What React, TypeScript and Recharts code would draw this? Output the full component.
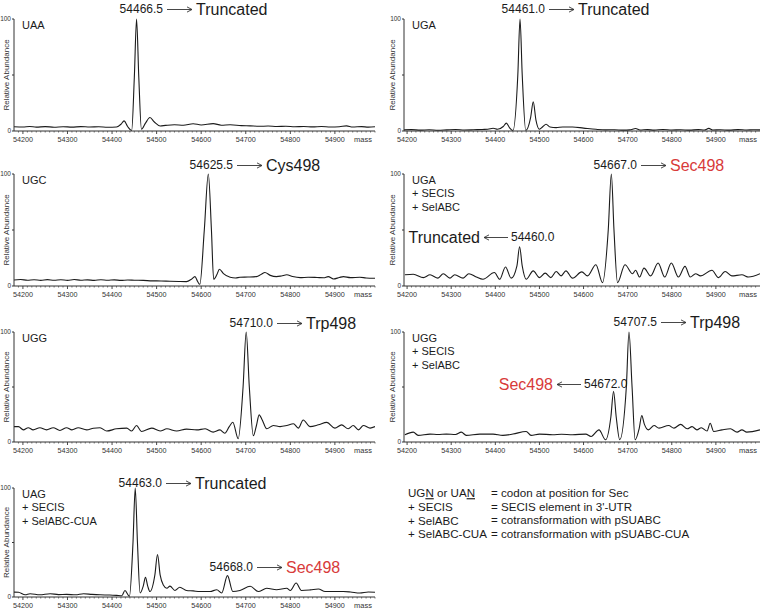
import { Line, LineChart, XAxis, YAxis } from "recharts";

const FONT = '"Liberation Sans", Arial, Helvetica, sans-serif';
const INK = "#1b1b1b";
const AXIS = "#333333";
const RED = "#d83a3a";

const MASS_LABELS = [54200, 54300, 54400, 54500, 54600, 54700, 54800, 54900];
const Y_TICKS = [0, 50, 100];
const LEFT_DOMAIN: [number, number] = [54180, 54990];
const RIGHT_DOMAIN: [number, number] = [54193, 55000];

// tick every 10 mass units; the hundreds carry a label
const X_TICKS: number[] = [];
for (let m = 54190; m <= 54990; m += 10) X_TICKS.push(m);

// [mass, relative abundance]
const UAA: [number, number][] = [
  [54180, 3.8], [54200, 3.6], [54215, 4.0], [54230, 3.5], [54250, 3.9], [54270, 3.4],
  [54290, 3.8], [54310, 3.5], [54330, 3.9], [54350, 3.6], [54370, 3.8], [54390, 3.4],
  [54410, 3.6], [54420, 6], [54427, 9], [54435, 4], [54444, 0.4], [54450, 48],
  [54455, 100], [54460, 48], [54466, 1.5], [54475, 7], [54485, 12], [54495, 8],
  [54508, 4.5], [54520, 5], [54540, 5.6], [54560, 5.2], [54582, 6.5], [54600, 5.4],
  [54627, 6.6], [54645, 5.2], [54665, 5.6], [54690, 4.8], [54710, 4.6], [54730, 4.2],
  [54750, 4.4], [54770, 4.0], [54790, 4.2], [54810, 3.8], [54830, 4.0], [54850, 3.7],
  [54870, 4.0], [54890, 3.6], [54910, 3.8], [54926, 4.6], [54940, 3.6], [54960, 3.9],
  [54975, 3.5], [54990, 3.8],
];

const UGA: [number, number][] = [
  [54193, 1.0], [54210, 1.2], [54230, 0.8], [54250, 1.1], [54270, 0.7], [54290, 1.0],
  [54310, 1.3], [54330, 0.9], [54350, 1.1], [54370, 1.4], [54383, 1.5], [54395, 2.4],
  [54405, 1.5], [54418, 4], [54425, 7], [54432, 3], [54440, 0.4], [54451, 50],
  [54456, 100], [54461, 50], [54469, 0.5], [54480, 12], [54486, 26], [54492, 10],
  [54500, 1.5], [54508, 4], [54515, 6], [54524, 3.5], [54538, 3], [54553, 3.6],
  [54575, 3.6], [54600, 2.6], [54628, 1.5], [54650, 1.0], [54670, 1.1], [54690, 0.8],
  [54705, 1.0], [54718, 2.2], [54728, 0.9], [54745, 1.2], [54760, 0.8], [54780, 1.3],
  [54800, 0.9], [54820, 1.1], [54840, 0.8], [54860, 1.2], [54874, 0.9], [54884, 2.3],
  [54893, 0.9], [54910, 1.1], [54930, 0.8], [54950, 1.2], [54970, 0.9], [54985, 1.1],
  [55000, 1.0],
];

const UGC: [number, number][] = [
  [54180, 5.4], [54195, 5.8], [54210, 5.2], [54225, 5.6], [54240, 5.0], [54255, 5.7],
  [54270, 5.1], [54285, 5.6], [54300, 5.0], [54315, 5.8], [54330, 5.2], [54345, 5.5],
  [54360, 5.0], [54375, 5.6], [54390, 5.1], [54405, 5.5], [54420, 5.0], [54435, 5.4],
  [54450, 5.2], [54470, 5.0], [54490, 4.6], [54510, 4.5], [54530, 4.2], [54550, 4.0],
  [54567, 3.9], [54578, 6], [54586, 8.4], [54592, 4], [54597, 1.5], [54607, 50],
  [54616, 100], [54623, 50], [54628, 6], [54635, 10], [54641, 15], [54650, 11],
  [54665, 7.8], [54677, 7.2], [54687, 7.8], [54705, 8.0], [54724, 8.4], [54735, 10.5],
  [54743, 12], [54755, 9.5], [54769, 8.4], [54780, 9], [54792, 10], [54805, 8.5],
  [54822, 7.5], [54840, 7.8], [54860, 7.6], [54875, 7.4], [54885, 8.4], [54897, 6.3],
  [54910, 7.6], [54919, 8.4], [54935, 7.5], [54956, 7.8], [54970, 7.2], [54990, 6.9],
];

const UGA_SEC: [number, number][] = [
  [54195, 10], [54214, 10.5], [54237, 7.5], [54252, 10], [54270, 7], [54282, 11],
  [54297, 7], [54308, 10], [54327, 7], [54340, 11], [54357, 8], [54372, 6],
  [54398, 12], [54410, 6], [54423, 17], [54436, 7], [54449, 18], [54455, 35],
  [54461, 18], [54470, 6], [54486, 13.5], [54500, 7.5], [54513, 11.5], [54526, 7.5],
  [54538, 13], [54549, 9], [54560, 13.5], [54575, 7], [54596, 12.6], [54609, 9],
  [54628, 19], [54643, 3], [54656, 50], [54663, 100], [54669, 50], [54677, 3],
  [54694, 19], [54711, 11], [54718, 14], [54727, 8], [54737, 16], [54752, 9],
  [54769, 20.5], [54784, 8], [54799, 20.5], [54815, 8], [54830, 17.5], [54842, 8],
  [54854, 11], [54865, 9], [54891, 14], [54906, 7.5], [54921, 13], [54936, 9],
  [54959, 10], [54974, 8], [55000, 11],
];

const UGG: [number, number][] = [
  [54180, 14], [54190, 14], [54201, 11], [54212, 13], [54223, 11], [54238, 13],
  [54253, 11], [54268, 13], [54283, 10.5], [54298, 13], [54310, 11], [54324, 13],
  [54343, 11], [54358, 12.5], [54373, 13], [54388, 10], [54410, 12], [54433, 12.6],
  [54444, 10], [54455, 15], [54466, 9.6], [54489, 12.6], [54508, 10], [54523, 12],
  [54545, 10], [54567, 11.7], [54590, 11], [54609, 12], [54627, 9], [54642, 11],
  [54653, 8], [54663, 14], [54671, 18], [54683, 3], [54694, 50], [54701, 100],
  [54708, 50], [54717, 5.7], [54724, 15], [54730, 24.7], [54737, 20], [54747, 12],
  [54762, 15], [54777, 14], [54792, 15], [54807, 16.6], [54818, 12.6], [54829, 20],
  [54844, 14], [54863, 15.6], [54882, 17.8], [54900, 12.6], [54915, 15.6], [54930, 12],
  [54941, 15], [54953, 11], [54964, 15], [54979, 12.6], [54990, 14],
];

const UGG_SEC: [number, number][] = [
  [54195, 6.6], [54214, 9], [54225, 6], [54252, 7.2], [54270, 6.8], [54289, 7.2],
  [54310, 6.8], [54323, 9], [54334, 6], [54365, 7.2], [54395, 7.2], [54417, 6],
  [54440, 7.2], [54470, 9.6], [54481, 6], [54500, 7.2], [54530, 6.6], [54550, 7],
  [54575, 6.6], [54605, 7.2], [54617, 5], [54635, 11], [54650, 2], [54662, 23],
  [54668, 46], [54674, 23], [54682, 2], [54697, 50], [54703, 100], [54710, 50],
  [54717, 2], [54726, 12], [54732, 24], [54738, 16], [54747, 11], [54760, 15],
  [54771, 12.6], [54793, 15], [54805, 12.6], [54820, 16], [54835, 12], [54846, 14],
  [54857, 11], [54867, 13], [54880, 10], [54887, 17], [54895, 9.6], [54914, 11],
  [54933, 12], [54948, 9], [54959, 11], [54970, 9], [55000, 11],
];

const UAG_SEC: [number, number][] = [
  [54180, 4.5], [54190, 4.3], [54205, 2], [54216, 3], [54238, 2], [54261, 3],
  [54280, 2.2], [54298, 2.4], [54318, 2.0], [54336, 3], [54355, 2.4], [54373, 2],
  [54395, 1.8], [54410, 1.5], [54422, 1.2], [54429, 6], [54439, 0.6], [54447, 50],
  [54452, 100], [54457, 50], [54463, 3.7], [54470, 10], [54475, 18], [54480, 10],
  [54485, 5], [54496, 20], [54502, 39], [54508, 20], [54515, 11], [54523, 8],
  [54530, 10], [54541, 6], [54552, 9], [54567, 6], [54582, 5.6], [54597, 5],
  [54620, 5], [54635, 6.7], [54646, 3.7], [54659, 19.6], [54671, 5], [54687, 6],
  [54710, 9.8], [54728, 5], [54747, 8], [54769, 6.7], [54792, 8], [54800, 6],
  [54813, 12.8], [54825, 6], [54845, 6.5], [54863, 7.3], [54878, 5], [54897, 5],
  [54919, 5], [54935, 4.6], [54956, 3.7], [54975, 4.6], [54990, 4.3],
];

const UAA_TAGS = ["UAA"];
const UGA_TAGS = ["UGA"];
const UGC_TAGS = ["UGC"];
const UGA_SEC_TAGS = ["UGA", "+ SECIS", "+ SelABC"];
const UGG_TAGS = ["UGG"];
const UGG_SEC_TAGS = ["UGG", "+ SECIS", "+ SelABC"];
const UAG_SEC_TAGS = ["UAG", "+ SECIS", "+ SelABC-CUA"];

const LEGEND_TERMS = ["+ SECIS", "+ SelABC", "+ SelABC-CUA"];
const LEGEND_MEANINGS = [
  "= codon at position for Sec",
  "= SECIS element in 3'-UTR",
  "= cotransformation with pSUABC",
  "= cotransformation with pSUABC-CUA",
];

const LEFT = { left: 14, right: 375, domain: LEFT_DOMAIN, titleX: 9 };
const RIGHT = { left: 404, right: 760, domain: RIGHT_DOMAIN, titleX: 395 };

const PANELS = [
  { data: UAA, tags: UAA_TAGS, side: LEFT, top: 19, bottom: 131 },
  { data: UGA, tags: UGA_TAGS, side: RIGHT, top: 19, bottom: 131 },
  { data: UGC, tags: UGC_TAGS, side: LEFT, top: 174, bottom: 286 },
  { data: UGA_SEC, tags: UGA_SEC_TAGS, side: RIGHT, top: 174, bottom: 286 },
  { data: UGG, tags: UGG_TAGS, side: LEFT, top: 332, bottom: 442 },
  { data: UGG_SEC, tags: UGG_SEC_TAGS, side: RIGHT, top: 332, bottom: 442 },
  { data: UAG_SEC, tags: UAG_SEC_TAGS, side: LEFT, top: 488, bottom: 597 },
];

// peak call-outs: x is where the mass number ends (right) or starts (left)
const CALLOUTS = [
  { mass: "54466.5", what: "Truncated", red: false, dir: "right", x: 163, y: 9 },
  { mass: "54461.0", what: "Truncated", red: false, dir: "right", x: 545, y: 9 },
  { mass: "54625.5", what: "Cys498", red: false, dir: "right", x: 233, y: 165 },
  { mass: "54667.0", what: "Sec498", red: true, dir: "right", x: 637, y: 165 },
  { mass: "54460.0", what: "Truncated", red: false, dir: "left", x: 511, y: 237 },
  { mass: "54710.0", what: "Trp498", red: false, dir: "right", x: 273, y: 323 },
  { mass: "54707.5", what: "Trp498", red: false, dir: "right", x: 657, y: 322 },
  { mass: "54672.0", what: "Sec498", red: true, dir: "left", x: 584, y: 384 },
  { mass: "54463.0", what: "Truncated", red: false, dir: "right", x: 162, y: 483 },
  { mass: "54668.0", what: "Sec498", red: true, dir: "right", x: 253, y: 567 },
];

const M_TOP = 5;
const Y_W = 14;
const X_H = 14;
const M_RIGHT = 3;

type Side = { left: number; right: number; domain: [number, number]; titleX: number };

function MassTick({ x, y, payload }: any) {
  const major = MASS_LABELS.includes(payload.value);
  return (
    <g>
      <line x1={x} y1={y} x2={x} y2={y + (major ? 3 : 1.6)} stroke={AXIS} strokeWidth={major ? 0.9 : 0.6} />
      {major && (
        <text x={x} y={y + 10.5} textAnchor="middle" fontSize={7.2} fill="#333" fontFamily={FONT}>
          {payload.value}
        </text>
      )}
    </g>
  );
}

function Spectrum({ data, side, top, bottom }: { data: [number, number][]; side: Side; top: number; bottom: number }) {
  const rows = data.map(([m, a]) => ({ m, a }));
  const width = side.right - side.left + Y_W + M_RIGHT;
  const height = bottom - top + M_TOP + X_H;
  return (
    <div style={{ position: "absolute", left: side.left - Y_W, top: top - M_TOP }}>
      <LineChart width={width} height={height} data={rows} margin={{ top: M_TOP, right: M_RIGHT, bottom: 0, left: 0 }}>
        <XAxis
          type="number"
          dataKey="m"
          domain={side.domain}
          ticks={X_TICKS.filter((t) => t >= side.domain[0] && t <= side.domain[1])}
          interval={0}
          allowDataOverflow
          height={X_H}
          axisLine={{ stroke: AXIS, strokeWidth: 1 }}
          tickLine={false}
          tickSize={0}
          tickMargin={0}
          tick={<MassTick />}
        />
        <YAxis
          type="number"
          domain={[0, 100]}
          ticks={Y_TICKS}
          width={Y_W}
          axisLine={{ stroke: AXIS, strokeWidth: 1 }}
          tickLine={{ stroke: AXIS }}
          tickSize={2}
          tickMargin={1}
          tickFormatter={(v: number) => (v === 50 ? "" : String(v))}
          tick={{ fontSize: 6.5, fill: "#333", fontFamily: FONT }}
        />
        <Line
          type="monotone"
          dataKey="a"
          stroke={INK}
          strokeWidth={1.1}
          dot={false}
          isAnimationActive={false}
        />
      </LineChart>
    </div>
  );
}

function Txt({ x, y, size, children, anchor = "start", fill = INK }: any) {
  return (
    <text x={x} y={y + size * 0.36} fontSize={size} textAnchor={anchor} fill={fill} fontFamily={FONT}>
      {children}
    </text>
  );
}

function Arrow({ from, to, y }: { from: number; to: number; y: number }) {
  const d = to > from ? -1 : 1;
  return (
    <g stroke="#333" strokeWidth={0.9} fill="none">
      <line x1={from} y1={y} x2={to} y2={y} />
      <polyline points={`${to + d * 5},${y - 2.6} ${to},${y} ${to + d * 5},${y + 2.6}`} />
    </g>
  );
}

export default function App() {
  return (
    <div style={{ position: "absolute", left: 0, top: 0, width: 763, height: 612, background: "#fff" }}>
      {PANELS.map((p, i) => (
        <Spectrum key={i} data={p.data} side={p.side} top={p.top} bottom={p.bottom} />
      ))}
      <svg width={763} height={612} style={{ position: "absolute", left: 0, top: 0, pointerEvents: "none" }}>
        {PANELS.map((p, i) => {
          const cy = (p.top + p.bottom) / 2;
          return (
            <g key={i}>
              <text
                transform={`translate(${p.side.titleX},${cy}) rotate(-90)`}
                fontSize={8}
                textAnchor="middle"
                fill="#333"
                fontFamily={FONT}
              >
                Relative Abundance
              </text>
              <Txt x={p.side.right - 12} y={p.bottom + 8} size={7.5} anchor="middle" fill="#333">
                mass
              </Txt>
              {p.tags.map((t, j) => (
                <Txt key={j} x={p.side.left + 8} y={p.top + 6 + j * 13.5} size={11}>
                  {t}
                </Txt>
              ))}
            </g>
          );
        })}
        {CALLOUTS.map((c, i) => {
          const color = c.red ? RED : INK;
          if (c.dir === "right") {
            return (
              <g key={i}>
                <Txt x={c.x} y={c.y} size={12} anchor="end">{c.mass}</Txt>
                <Arrow from={c.x + 4} to={c.x + 29} y={c.y + 0.5} />
                <Txt x={c.x + 33} y={c.y} size={16} fill={color}>{c.what}</Txt>
              </g>
            );
          }
          return (
            <g key={i}>
              <Txt x={c.x} y={c.y} size={12}>{c.mass}</Txt>
              <Arrow from={c.x - 3} to={c.x - 27} y={c.y + 0.5} />
              <Txt x={c.x - 31} y={c.y} size={16} anchor="end" fill={color}>{c.what}</Txt>
            </g>
          );
        })}
        <Txt x={408} y={493} size={11.6}>
          UG<tspan style={{ textDecoration: "underline" }}>N</tspan> or UA
          <tspan style={{ textDecoration: "underline" }}>N</tspan>
        </Txt>
        {LEGEND_TERMS.map((t, i) => (
          <Txt key={t} x={408} y={507 + i * 13.6} size={11.6}>{t}</Txt>
        ))}
        {LEGEND_MEANINGS.map((t, i) => (
          <Txt key={t} x={491} y={493 + i * 13.6} size={11.6}>{t}</Txt>
        ))}
      </svg>
    </div>
  );
}
